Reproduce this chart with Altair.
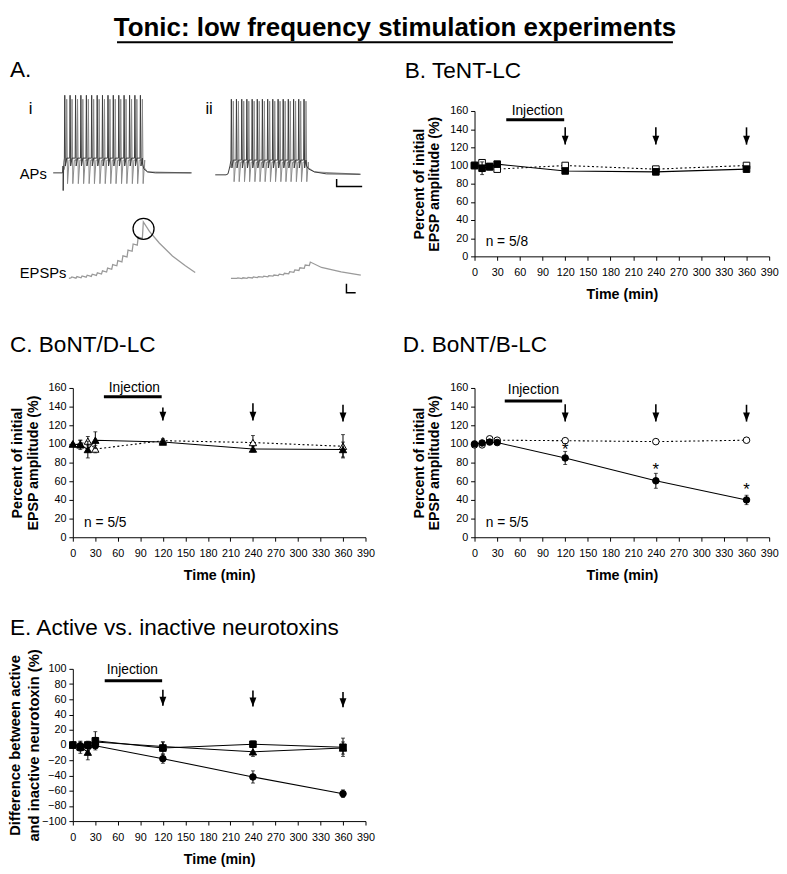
import altair as alt
import pandas as pd

FONT = "Liberation Sans"

# ---------------- Panels B-E: time course data ----------------
TIME = [0, 10, 20, 30, 120, 240, 360]
X_TICKS = list(range(0, 391, 30))
ARROW_T = [120, 240, 360]

# B. TeNT-LC (squares)
B_ACTIVE = [100, 97, 98.5, 101.5, 94, 93, 96]
B_ACTIVE_ERR = [0, 7, 3, 3, 2, 3, 3]
B_INACTIVE = [100, 103, 99, 96, 100, 96, 100]
B_INACTIVE_ERR = [0, 3, 3, 3, 2, 2, 2]
B_ARROW_TOP = [142, 142, 142]
B_ARROW_TIP = [123, 123, 123]
B_INJ = [42, 118.7, 150.3]
B_INJ_TEXT = [83, 155.7]
B_N = [14.7, 11.5, "n = 5/8"]

# C. BoNT/D-LC (triangles)
C_ACTIVE = [100, 99, 94, 104, 102, 94.5, 94]
C_ACTIVE_ERR = [0, 5, 9, 9, 2, 3, 8]
C_INACTIVE = [100, 100, 103, 94.5, 103.5, 101.5, 97.5]
C_INACTIVE_ERR = [0, 4, 5, 4, 2, 7.5, 12.5]
C_ARROW_TOP = [139, 143.5, 142]
C_ARROW_TIP = [125, 125, 124]
C_INJ = [41.4, 118.4, 150.5]
C_INJ_TEXT = [82, 155.4]
C_N = [15, 10.5, "n = 5/5"]

# D. BoNT/B-LC (circles)
D_ACTIVE = [100, 101, 102, 101.5, 85, 60.5, 40]
D_ACTIVE_ERR = [0, 1.5, 2, 2, 7, 8, 5]
D_INACTIVE = [99, 99, 105.5, 104, 103.5, 102.5, 104]
D_INACTIVE_ERR = [0, 1.5, 2, 2, 2, 2, 2]
D_ARROW_TOP = [142.5, 142.5, 142]
D_ARROW_TIP = [124, 124, 124]
D_INJ = [40, 116, 146]
D_INJ_TEXT = [78, 153]
D_N = [15, 11, "n = 5/5"]
D_STAR_T = [120, 240, 360]
D_STAR_V = [94.3, 72.7, 51.7]

# E. Active vs inactive (differences)
E_CIRCLE = [0, -1, -1, -1, -18, -42, -64]
E_CIRCLE_ERR = [0, 2, 2, 2, 6, 8, 5]
E_SQUARE = [0, -3, 0, 5.5, -4, 1, -3]
E_SQUARE_ERR = [0, 8, 5, 12, 8, 4, 12]
E_TRIANGLE = [0, -2, -9.5, 4, -2, -9, -4]
E_TRIANGLE_ERR = [0, 6, 10, 6, 6, 6, 8]
E_ARROW_TOP = [72.6, 71.5, 69.7]
E_ARROW_TIP = [51.6, 50.5, 49.5]
E_INJ = [42.5, 119, 84.4]
E_INJ_TEXT = [79.3, 93.7]

# ---------------- Panel A: recorded traces (ms, mV) ----------------
SPIKES_I = [57, 84, 112, 139, 167, 194, 222, 249, 277, 304, 332, 359, 387, 414, 442]
SPIKES_II = [905, 931, 958, 984, 1011, 1037, 1063, 1090, 1116, 1143, 1169, 1195, 1222, 1248, 1275]
AP_I_PRE = [(0, 42.5), (48, 42.5), (50, 46), (51, 33.5), (53, 44), (55, 48)]
AP_I_POST = [(455, 47), (462, 44.5), (480, 43), (520, 42.5), (705, 42.5)]
AP_II_PRE = [(825, 41.5), (880, 41.5), (890, 42), (900, 46)]
AP_II_POST = [(1290, 46), (1300, 44.5), (1330, 43), (1390, 42), (1565, 41.8)]

EPSP_I_EVENTS = [90, 116, 142, 168, 194, 220, 246, 272, 298, 324, 350, 376, 402, 428, 454]
EPSP_I_PEAK = [-10.5, -10.3, -10.0, -9.6, -9.1, -8.4, -7.4, -6.0, -4.2, -2.2, 0.3, 3.2, 6.3, 9.8, 17.5]
EPSP_I_TROUGH = [-11.0, -11.1, -10.9, -10.6, -10.2, -9.7, -9.0, -8.0, -6.6, -4.8, -2.8, -0.3, 2.6, 5.7, 9.2]
EPSP_I_START = [(80, -11.2)]
EPSP_I_DECAY = [(490, 12.7), (540, 6.8), (607, 0.2), (673, -4.8), (723, -8.2)]

EPSP_II_EVENTS = [935, 961, 987, 1014, 1040, 1067, 1093, 1119, 1146, 1172, 1199, 1225, 1251, 1278, 1304]
EPSP_II_PEAK = [-11.0, -10.9, -10.7, -10.5, -10.3, -10.1, -9.8, -9.5, -9.1, -8.6, -7.8, -6.9, -5.8, -4.4, -2.9]
EPSP_II_TROUGH = [-11.2, -11.3, -11.2, -11.0, -10.8, -10.6, -10.4, -10.1, -9.8, -9.4, -8.9, -8.1, -7.2, -6.1, -4.7]
EPSP_II_START = [(905, -11.2)]
EPSP_II_DECAY = [(1366, -5.65), (1466, -7.85), (1566, -9.5)]

AP_SCALEBAR = [(1443, 39.4), (1443, 35.6), (1573, 35.6)]
EPSP_SCALEBAR = [(1493, -14.0), (1493, -18.5), (1540, -18.5)]
EPSP_CIRCLE = (460, 14)

ARROW_PATH = "M0,0L-0.5,-1.3L0.5,-1.3Z"


def ap_vertices(spikes, pre, post, plateau, peak, trough, shift, up, down, recover):
    pts = list(pre)
    for s in spikes:
        s = s + shift
        pts += [(s, plateau), (s + up, peak), (s + down, trough), (s + recover, plateau)]
    pts += list(post)
    return pts


def epsp_vertices(start, events, troughs, peaks, decay):
    pts = list(start)
    for e, lo, hi in zip(events, troughs, peaks):
        pts += [(e, lo), (e + 5, hi)]
    pts += list(decay)
    return pts


def trace_df(pts, name):
    return pd.DataFrame({"t": [p[0] for p in pts], "v": [p[1] for p in pts],
                         "idx": list(range(len(pts))), "trace": name})


one = pd.DataFrame({"a": [0]})


def label(text, x, y, size, baseline="alphabetic", weight="normal", align="left"):
    return alt.Chart(one).mark_text(text=text, font=FONT, fontSize=size, fontWeight=weight,
                                    align=align, baseline=baseline, color="black").encode(
        x=alt.value(x), y=alt.value(y))


def panel_a():
    xs = alt.Scale(domain=[100, 1590], nice=False, zero=False)
    ys = alt.Scale(domain=[0, 74], nice=False, zero=False)
    X = alt.X("t:Q", scale=xs, axis=None)
    Y = alt.Y("v:Q", scale=ys, axis=None)

    gray = pd.concat([
        trace_df(ap_vertices(SPIKES_I, [(55, 44)], [(465, 45), (480, 43), (700, 42.5)], 49, 80, 37, 10, 2, 6, 14), "gi"),
        trace_df(ap_vertices(SPIKES_II, [(900, 45)], [(1300, 45), (1330, 43), (1560, 41.8)], 48, 79, 38, 10, 2, 6, 14), "gii"),
    ])
    dark = pd.concat([
        trace_df(ap_vertices(SPIKES_I, AP_I_PRE, AP_I_POST, 50, 82, 46, 0, 2, 5, 12), "di"),
        trace_df(ap_vertices(SPIKES_II, AP_II_PRE, AP_II_POST, 49, 80, 45, 0, 2, 5, 12), "dii"),
    ])
    epsp = pd.concat([
        trace_df(epsp_vertices(EPSP_I_START, EPSP_I_EVENTS, EPSP_I_TROUGH, EPSP_I_PEAK, EPSP_I_DECAY), "ei"),
        trace_df(epsp_vertices(EPSP_II_START, EPSP_II_EVENTS, EPSP_II_TROUGH, EPSP_II_PEAK, EPSP_II_DECAY), "eii"),
    ])
    bars = pd.concat([trace_df(AP_SCALEBAR, "sb1"), trace_df(EPSP_SCALEBAR, "sb2")])
    circ = pd.DataFrame({"t": [EPSP_CIRCLE[0]], "v": [EPSP_CIRCLE[1]]})

    def line(df, color, w):
        return alt.Chart(df).mark_line(color=color, strokeWidth=w).encode(
            x=X, y=Y, order="idx:Q", detail="trace:N")

    underline = alt.Chart(one).mark_rule(color="black", strokeWidth=2.2).encode(
        x=alt.value(45), x2=alt.value(611), y=alt.value(-70))

    layers = [
        label("Tonic: low frequency stimulation experiments", 328, -76, 26.4, weight="bold", align="center"),
        underline,
        line(gray, "#8a8a8a", 1), line(dark, "#3a3a3a", 1), line(epsp, "#9a9a9a", 1.3),
        line(bars, "black", 1.5),
        alt.Chart(circ).mark_point(shape="circle", size=458, filled=False, color="black",
                                   strokeWidth=1.3, opacity=1).encode(x=X, y=Y),
        label("A.", -64, -35, 23),
        label("i", -45, 3, 17),
        label("ii", 135, 3, 17),
        label("APs", -54, 64, 15, "middle"),
        label("EPSPs", -54, 165, 15, "middle"),
    ]
    return alt.layer(*layers).properties(width=298, height=148)


def panel(series, ydom, ystep, ytitle, ytitle_size, ytitle_lh, ytitle_pad, title, title_x,
          title_y, arrow_top, arrow_tip, inj, inj_text, n_text, w, h, stars=None):
    xs = alt.Scale(domain=[0, 390], nice=False, zero=False)
    ys = alt.Scale(domain=ydom, nice=False, zero=False)
    xaxis = alt.Axis(values=X_TICKS, title="Time (min)", titlePadding=10, labelPadding=7,
                     tickSize=4, labelFlush=False)
    yaxis = alt.Axis(values=list(range(ydom[0], ydom[1] + 1, ystep)), title=ytitle,
                     titleFontSize=ytitle_size, titleLineHeight=ytitle_lh, titlePadding=ytitle_pad,
                     labelPadding=3, tickSize=4, labelFlush=False)

    def X(f="t"):
        return alt.X(f"{f}:Q", scale=xs, axis=xaxis)

    def Y(f="v"):
        return alt.Y(f"{f}:Q", scale=ys, axis=yaxis)

    layers = []
    for s in series:
        df = pd.DataFrame({"t": TIME, "v": s["v"], "e": s["err"]})
        df["lo"] = df["v"] - df["e"]
        df["hi"] = df["v"] + df["e"]
        dfe = df[df["e"] > 0]
        lk = dict(color="black", strokeWidth=1.1)
        if s.get("dotted"):
            lk["strokeDash"] = [2, 2.5]
        layers.append(alt.Chart(df).mark_line(**lk).encode(x=X(), y=Y()))
        layers.append(alt.Chart(dfe).mark_rule(color="black", strokeWidth=1).encode(
            x=X(), y=Y("lo"), y2=alt.Y2("hi:Q")))
        for f in ("lo", "hi"):
            layers.append(alt.Chart(dfe).mark_tick(orient="horizontal", size=4, thickness=1,
                                                   color="black").encode(x=X(), y=Y(f)))
        layers.append(alt.Chart(df).mark_point(
            shape=s["shape"], size=s.get("size", 45), filled=True,
            fill="black" if s["filled"] else "white", stroke="black", strokeWidth=1,
            opacity=1).encode(x=X(), y=Y()))

    adf = pd.DataFrame({"t": ARROW_T, "top": arrow_top, "tip": arrow_tip})
    layers.append(alt.Chart(adf).mark_rule(color="black", strokeWidth=1.6).encode(
        x=X(), y=Y("top"), y2=alt.Y2("tip:Q")))
    layers.append(alt.Chart(adf).mark_point(shape=ARROW_PATH, size=196, filled=True, fill="black",
                                            strokeWidth=0, opacity=1).encode(x=X(), y=Y("tip")))

    idf = pd.DataFrame({"t": [inj[0]], "t2": [inj[1]], "v": [inj[2]]})
    layers.append(alt.Chart(idf).mark_rule(color="black", strokeWidth=3).encode(
        x=X(), x2=alt.X2("t2:Q"), y=Y()))
    tdf = pd.DataFrame({"t": [inj_text[0]], "v": [inj_text[1]]})
    layers.append(alt.Chart(tdf).mark_text(text="Injection", font=FONT, fontSize=14, align="center",
                                           baseline="alphabetic", color="black").encode(x=X(), y=Y()))
    if n_text:
        ndf = pd.DataFrame({"t": [n_text[0]], "v": [n_text[1]]})
        layers.append(alt.Chart(ndf).mark_text(text=n_text[2], font=FONT, fontSize=14, align="left",
                                               baseline="alphabetic", color="black").encode(x=X(), y=Y()))
    if stars:
        sdf = pd.DataFrame({"t": stars[0], "v": stars[1]})
        layers.append(alt.Chart(sdf).mark_text(text="*", font=FONT, fontSize=17, align="center",
                                               baseline="alphabetic", dy=6, color="black").encode(x=X(), y=Y()))
    layers.append(label(title, title_x, title_y, 23))

    return alt.layer(*layers).properties(width=w, height=h)


EPSP_TITLE = ["Percent of initial", "EPSP amplitude (%)"]

pB = panel([
    {"v": B_INACTIVE, "err": B_INACTIVE_ERR, "shape": "square", "filled": False, "dotted": True},
    {"v": B_ACTIVE, "err": B_ACTIVE_ERR, "shape": "square", "filled": True},
], [0, 160], 20, EPSP_TITLE, 14.5, 16, 8, "B. TeNT-LC", -71, -34,
    B_ARROW_TOP, B_ARROW_TIP, B_INJ, B_INJ_TEXT, B_N, 300, 148)

pC = panel([
    {"v": C_INACTIVE, "err": C_INACTIVE_ERR, "shape": "triangle-up", "filled": False, "dotted": True, "size": 55},
    {"v": C_ACTIVE, "err": C_ACTIVE_ERR, "shape": "triangle-up", "filled": True, "size": 55},
], [0, 160], 20, EPSP_TITLE, 14.5, 16, 8, "C. BoNT/D-LC", -64, -37,
    C_ARROW_TOP, C_ARROW_TIP, C_INJ, C_INJ_TEXT, C_N, 298, 152)

pD = panel([
    {"v": D_INACTIVE, "err": D_INACTIVE_ERR, "shape": "circle", "filled": False, "dotted": True},
    {"v": D_ACTIVE, "err": D_ACTIVE_ERR, "shape": "circle", "filled": True},
], [0, 160], 20, EPSP_TITLE, 14.5, 16, 8, "D. BoNT/B-LC", -73, -37,
    D_ARROW_TOP, D_ARROW_TIP, D_INJ, D_INJ_TEXT, D_N, 300, 152, stars=(D_STAR_T, D_STAR_V))

pE = panel([
    {"v": E_TRIANGLE, "err": E_TRIANGLE_ERR, "shape": "triangle-up", "filled": True, "size": 55},
    {"v": E_SQUARE, "err": E_SQUARE_ERR, "shape": "square", "filled": True},
    {"v": E_CIRCLE, "err": E_CIRCLE_ERR, "shape": "circle", "filled": True},
], [-100, 100], 20, ["Difference between active", "and inactive neurotoxin (%)"], 15, 19, 0,
    "E. Active vs. inactive neurotoxins", -64, -34,
    E_ARROW_TOP, E_ARROW_TIP, E_INJ, E_INJ_TEXT, None, 298, 155)

chart = alt.concat(
    panel_a(), pB, pC, pD, pE, columns=2,
    spacing={"row": 134, "column": 111}, bounds="flush", align="each",
).properties(padding=0).configure_view(stroke=None).configure_axis(
    labelFont=FONT, titleFont=FONT, labelFontSize=11, titleFontSize=14.5, titleFontWeight="bold",
    domainColor="black", tickColor="black", labelColor="black", titleColor="black", grid=False,
    domainWidth=1, tickWidth=1,
)

chart.save("out.html", embed_options={"renderer": "svg", "actions": False})
